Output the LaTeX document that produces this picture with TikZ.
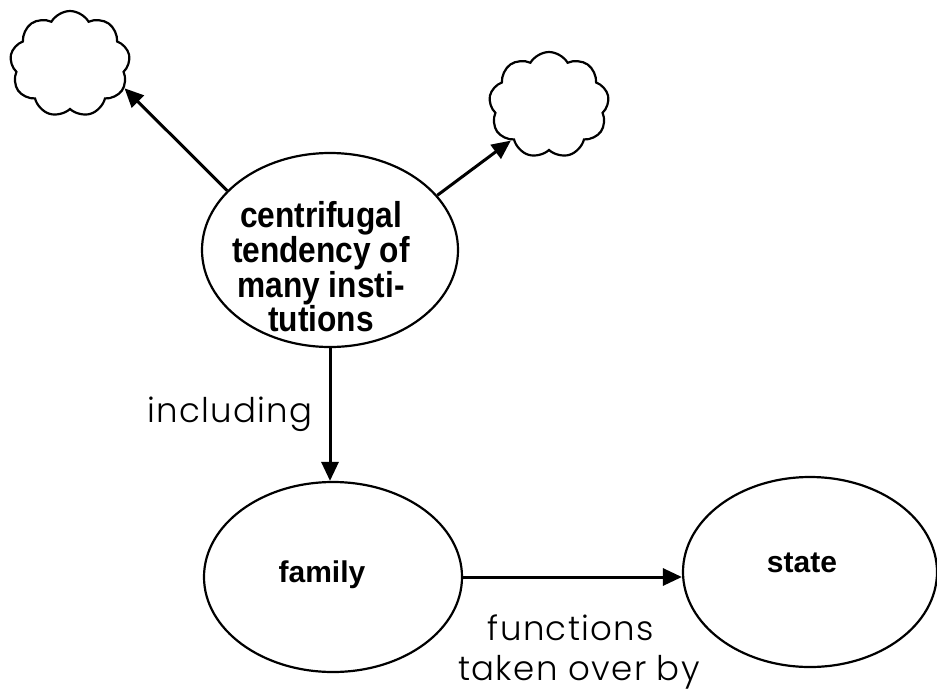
\documentclass[tikz,border=0pt]{standalone}
\usepackage{fontspec}
\usetikzlibrary{shapes.geometric,shapes.symbols,arrows.meta}
\newfontfamily\hb{Liberation Sans}[FakeStretch=0.88]
\newfontfamily\hbn{Liberation Sans}
\newfontfamily\lt{Poppins Light}[LetterSpace=4]
\tikzset{
  oval/.style={draw, ellipse, line width=2.2pt, inner sep=0pt},
  puff/.style={draw, cloud, cloud puffs=9, cloud puff arc=120, cloud ignores aspect, line width=2.2pt, inner sep=0pt, minimum width=120pt, minimum height=106pt},
  conn/.style={line width=3pt, -{Triangle[length=19pt,width=17pt]}},
  btext/.style={font=\hbn\bfseries\fontsize{30}{32}\selectfont, inner sep=0pt, anchor=base},
  ltext/.style={font=\lt\fontsize{34}{40}\selectfont, inner sep=0pt, anchor=base}
}
\begin{document}
\begin{tikzpicture}[x=1pt,y=-1pt]
\useasboundingbox (0,0) rectangle (937,691);
\node[puff] (cl1) at (70,64) {};
\node[puff] (cl2) at (549,105) {};
\node[oval, minimum width=256pt, minimum height=194pt] (c) at (330,250) {};
\node[oval, minimum width=258pt, minimum height=190pt] (f) at (333,577) {};
\node[oval, minimum width=254pt, minimum height=190pt] (s) at (810,572) {};
\node[font=\hb\bfseries\fontsize{36}{31.7}\selectfont, align=center, inner sep=0pt] (ct) at (321,267) {centrifugal\\tendency of\\many insti-\\tutions};
\node[btext] (ft) at (322,582) {family};
\node[btext] (st) at (802,572) {state};
\draw[conn] (c.150) -- (cl1.-24);
\draw[conn] (c.27) -- (cl2.223);
\draw[conn] (c.south) -- (c.south |- f.north);
\draw[conn] (f.east) -- (s.west |- f.east);
\node[ltext] (inc) at (230,422) {including};
\node[ltext] (fn) at (571,640) {functions};
\node[ltext] (tob) at (579,680) {taken over by};
\end{tikzpicture}
\end{document}
